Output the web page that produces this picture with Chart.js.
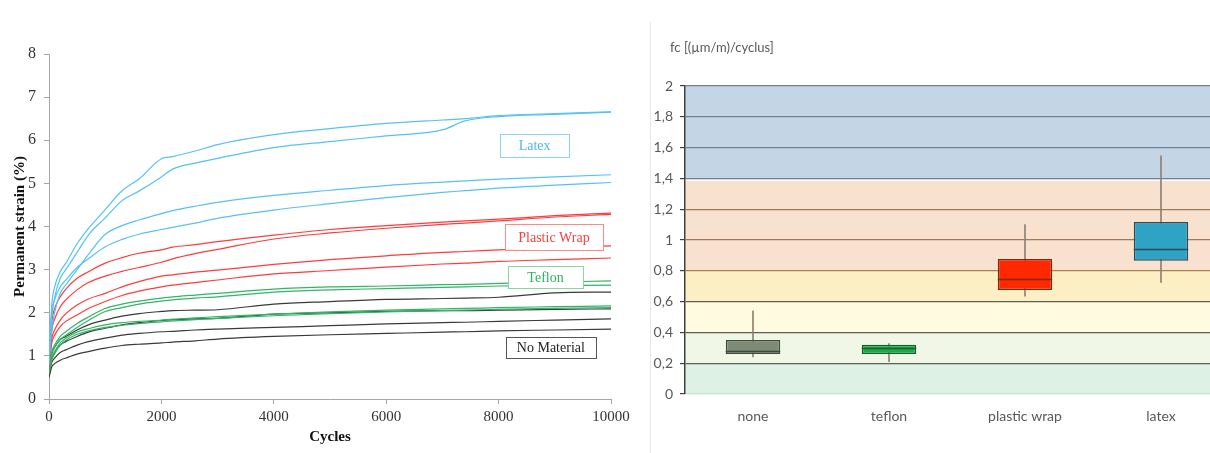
<!DOCTYPE html>
<html>
<head>
<meta charset="utf-8">
<script src="https://cdn.jsdelivr.net/npm/chart.js@4.4.1/dist/chart.umd.min.js"></script>
<style>
  html, body { margin: 0; padding: 0; background: #fff; overflow: hidden; }
  #wrap { position: relative; width: 1210px; height: 453px; overflow: hidden; }
  #left { position: absolute; left: 0; top: 0; width: 640px; height: 453px; }
  #right { position: absolute; left: 650px; top: 0; width: 590px; height: 453px; }
  #sep { position: absolute; left: 650px; top: 22px; width: 1px; height: 431px; background: #e8e8e8; }
</style>
</head>
<body>
<div id="wrap">
  <div id="left"><canvas id="strain"></canvas></div>
  <div id="sep"></div>
  <div id="right"><canvas id="fc"></canvas></div>
</div>
<script>
// ---- left: permanent strain vs cycles ----
var cycles = [0, 50, 100, 200, 300, 500, 700, 1000, 1300, 1600, 2000, 2200, 2600, 3000, 4000, 5000, 6000, 7000, 7400, 8000, 9000, 10000];

var latexA = [1.0, 2.2, 2.6, 2.95, 3.15, 3.6, 3.95, 4.39, 4.83, 5.1, 5.57, 5.62, 5.75, 5.9, 6.13, 6.27, 6.39, 6.47, 6.5, 6.57, 6.62, 6.66];
var latexB = [0.9, 1.9, 2.35, 2.8, 3.0, 3.4, 3.8, 4.2, 4.6, 4.82, 5.15, 5.33, 5.47, 5.58, 5.83, 5.97, 6.1, 6.24, 6.45, 6.55, 6.6, 6.65];
var latexC = [0.8, 1.6, 2.0, 2.45, 2.65, 3.0, 3.35, 3.82, 4.02, 4.15, 4.3, 4.37, 4.47, 4.56, 4.72, 4.84, 4.95, 5.03, 5.06, 5.1, 5.15, 5.2];
var latexD = [0.9, 2.0, 2.3, 2.6, 2.76, 3.05, 3.25, 3.53, 3.7, 3.82, 3.93, 3.98, 4.08, 4.19, 4.38, 4.53, 4.67, 4.79, 4.83, 4.89, 4.96, 5.02];

var wrapA = [0.9, 1.8, 2.1, 2.37, 2.55, 2.8, 2.95, 3.15, 3.28, 3.38, 3.46, 3.52, 3.58, 3.65, 3.8, 3.93, 4.02, 4.1, 4.13, 4.17, 4.25, 4.31];
var wrapB = [0.85, 1.6, 1.85, 2.14, 2.3, 2.53, 2.7, 2.85, 2.96, 3.05, 3.17, 3.25, 3.37, 3.47, 3.71, 3.85, 3.96, 4.05, 4.08, 4.13, 4.22, 4.28];
var wrapC = [0.8, 1.4, 1.6, 1.83, 1.98, 2.18, 2.32, 2.45, 2.6, 2.72, 2.85, 2.88, 2.94, 2.99, 3.12, 3.23, 3.32, 3.4, 3.42, 3.46, 3.51, 3.55];
var wrapD = [0.75, 1.3, 1.48, 1.68, 1.8, 1.95, 2.1, 2.26, 2.4, 2.5, 2.6, 2.64, 2.7, 2.76, 2.9, 2.98, 3.06, 3.13, 3.15, 3.19, 3.23, 3.27];

var teflonA = [0.7, 1.1, 1.25, 1.45, 1.56, 1.75, 1.9, 2.1, 2.2, 2.27, 2.34, 2.37, 2.41, 2.45, 2.55, 2.6, 2.62, 2.65, 2.66, 2.68, 2.71, 2.74];
var teflonB = [0.65, 1.05, 1.2, 1.38, 1.48, 1.66, 1.82, 2.03, 2.12, 2.2, 2.27, 2.3, 2.34, 2.37, 2.48, 2.53, 2.56, 2.59, 2.6, 2.62, 2.63, 2.64];
var teflonC = [0.65, 0.95, 1.1, 1.3, 1.41, 1.55, 1.63, 1.72, 1.77, 1.8, 1.83, 1.85, 1.88, 1.91, 1.97, 2.02, 2.06, 2.09, 2.1, 2.12, 2.14, 2.16];
var teflonD = [0.6, 0.9, 1.05, 1.25, 1.36, 1.5, 1.58, 1.66, 1.71, 1.75, 1.79, 1.81, 1.84, 1.87, 1.93, 1.98, 2.02, 2.05, 2.06, 2.08, 2.1, 2.12];

var noneA = [0.7, 1.05, 1.2, 1.38, 1.45, 1.6, 1.72, 1.83, 1.92, 1.98, 2.03, 2.05, 2.06, 2.07, 2.2, 2.26, 2.31, 2.33, 2.34, 2.36, 2.46, 2.48];
var noneB = [0.65, 0.95, 1.08, 1.25, 1.33, 1.45, 1.55, 1.64, 1.72, 1.77, 1.82, 1.84, 1.86, 1.87, 1.97, 2.0, 2.03, 2.05, 2.05, 2.06, 2.08, 2.09];
var noneC = [0.6, 0.85, 0.95, 1.08, 1.14, 1.25, 1.33, 1.41, 1.48, 1.52, 1.56, 1.57, 1.6, 1.62, 1.66, 1.7, 1.74, 1.77, 1.78, 1.8, 1.83, 1.86];
var noneD = [0.5, 0.75, 0.82, 0.9, 0.95, 1.04, 1.1, 1.18, 1.24, 1.27, 1.3, 1.32, 1.35, 1.39, 1.45, 1.49, 1.52, 1.55, 1.56, 1.58, 1.6, 1.62];

var noteLabels = ["Latex", "Plastic Wrap", "Teflon", "No Material"];

// ---- right: fc box plot ----
var materials = ["none", "teflon", "plastic wrap", "latex"];
var fcMin = [0.24, 0.21, 0.635, 0.725];
var fcQ1 = [0.26, 0.26, 0.675, 0.865];
var fcMedian = [0.277, 0.30, 0.747, 0.94];
var fcQ3 = [0.35, 0.32, 0.877, 1.117];
var fcMax = [0.54, 0.327, 1.10, 1.547];
var fcTickLabels = ["0", "0,2", "0,4", "0,6", "0,8", "1", "1,2", "1,4", "1,6", "1,8", "2"];
var fcUnit = "fc [(µm/m)/cyclus]";
var bandEdges = [0, 0.2, 0.4, 0.6, 0.8, 1.4, 2];

// styles
var lineColors = { latex: "#55c2f2", wrap: "#ff3b3b", teflon: "#33b566", none: "#3a3a3a" };
var noteStyle = [
  { text: "#4db8ea", border: "#8fd3f3", x: 8640, y: 5.88, w: 69, h: 23 },
  { text: "#ff3b3b", border: "#ff8a8a", x: 8985, y: 3.76, w: 98, h: 26 },
  { text: "#2eb25e", border: "#86d7a4", x: 8835, y: 2.83, w: 75, h: 22 },
  { text: "#222222", border: "#555555", x: 8930, y: 1.19, w: 90, h: 21 }
];
var bandColors = ["#ddf1e5", "#f0f7e6", "#fefbe0", "#fcefc3", "#f9e1cf", "#c4d5e6"];
var boxFill = ["#7f8b75", "#18ad48", "#ff2800", "#2ea3c4"];
var boxEdge = ["#3e4a3c", "#1d5e2e", "#7a2a10", "#2d4a58"];

function toPoints(arr) {
  return cycles.map(function (c, i) { return { x: c, y: arr[i] }; });
}

function lineSet(arr, color) {
  return {
    data: toPoints(arr),
    borderColor: color,
    borderWidth: 1.2,
    pointRadius: 0,
    fill: false,
    cubicInterpolationMode: "monotone"
  };
}

var strainSets = [
  lineSet(latexA, lineColors.latex), lineSet(latexB, lineColors.latex),
  lineSet(latexC, lineColors.latex), lineSet(latexD, lineColors.latex),
  lineSet(wrapA, lineColors.wrap), lineSet(wrapB, lineColors.wrap),
  lineSet(wrapC, lineColors.wrap), lineSet(wrapD, lineColors.wrap),
  lineSet(teflonA, lineColors.teflon), lineSet(teflonB, lineColors.teflon),
  lineSet(teflonC, lineColors.teflon), lineSet(teflonD, lineColors.teflon),
  lineSet(noneA, lineColors.none), lineSet(noneB, lineColors.none),
  lineSet(noneC, lineColors.none), lineSet(noneD, lineColors.none)
];

// labelled boxes inside the strain plot
var notesPlugin = {
  id: "notes",
  afterDatasetsDraw: function (chart) {
    var ctx = chart.ctx;
    var xs = chart.scales.x, ys = chart.scales.y;
    ctx.save();
    ctx.font = "14px 'Liberation Serif'";
    ctx.textAlign = "center";
    ctx.textBaseline = "middle";
    noteLabels.forEach(function (label, i) {
      var s = noteStyle[i];
      var cx = xs.getPixelForValue(s.x), cy = ys.getPixelForValue(s.y);
      ctx.fillStyle = "#fff";
      ctx.fillRect(cx - s.w / 2, cy - s.h / 2, s.w, s.h);
      ctx.strokeStyle = s.border;
      ctx.lineWidth = 1;
      ctx.strokeRect(Math.round(cx - s.w / 2) + 0.5, Math.round(cy - s.h / 2) + 0.5, s.w, s.h);
      ctx.fillStyle = s.text;
      ctx.fillText(label, cx, cy + 1);
    });
    ctx.restore();
  }
};

var serif = "'Liberation Serif', 'Times New Roman', serif";

new Chart(document.getElementById("strain").getContext("2d"), {
  type: "line",
  data: { datasets: strainSets },
  options: {
    animation: false,
    responsive: true,
    maintainAspectRatio: false,
    layout: { padding: { left: 11, right: 29, top: 54, bottom: 7 } },
    plugins: { legend: { display: false }, tooltip: { enabled: false } },
    scales: {
      x: {
        type: "linear",
        min: 0,
        max: 10000,
        ticks: {
          stepSize: 2000,
          maxRotation: 0,
          color: "#333",
          padding: 4,
          font: { family: serif, size: 15 },
          callback: function (v) { return String(v); }
        },
        grid: { drawOnChartArea: false, tickLength: 5, tickColor: "#a6a6a6" },
        border: { color: "#a6a6a6" },
        title: {
          display: true,
          text: "Cycles",
          color: "#111",
          padding: { top: 0, bottom: 0 },
          font: { family: serif, size: 15, weight: "bold" }
        },
        afterFit: function (s) { s.height = 47; }
      },
      y: {
        min: 0,
        max: 8,
        ticks: {
          stepSize: 1,
          color: "#333",
          padding: 8,
          font: { family: serif, size: 16 }
        },
        grid: { drawOnChartArea: false, tickLength: 5, tickColor: "#a6a6a6" },
        border: { color: "#a6a6a6" },
        title: {
          display: true,
          text: "Permanent strain (%)",
          color: "#111",
          padding: { top: 0, bottom: 0 },
          font: { family: serif, size: 15, weight: "bold" }
        },
        afterFit: function (s) { s.width = 38; }
      }
    }
  },
  plugins: [notesPlugin]
});

var sans = "Lato, 'Open Sans', sans-serif";

// coloured classes behind the box plot, plus the unit caption
var bandsPlugin = {
  id: "bands",
  beforeDraw: function (chart) {
    var ctx = chart.ctx, a = chart.chartArea, ys = chart.scales.y;
    ctx.save();
    for (var i = 0; i < bandColors.length; i++) {
      var yTop = ys.getPixelForValue(bandEdges[i + 1]);
      var yBot = ys.getPixelForValue(bandEdges[i]);
      ctx.fillStyle = bandColors[i];
      ctx.fillRect(a.left, yTop, a.right - a.left, yBot - yTop);
    }
    // thin white gap between the blue and the peach class
    ctx.fillStyle = "#ffffff";
    ctx.fillRect(a.left, ys.getPixelForValue(bandEdges[5]) + 1, a.right - a.left, 1.5);
    ctx.fillStyle = "#595959";
    ctx.font = "13px " + sans;
    ctx.textAlign = "left";
    ctx.textBaseline = "middle";
    ctx.fillText(fcUnit, a.left - 15, a.top - 38);
    ctx.restore();
  }
};

var medianPlugin = {
  id: "medians",
  afterDatasetsDraw: function (chart) {
    var ctx = chart.ctx, ys = chart.scales.y;
    var meta = chart.getDatasetMeta(0);
    ctx.save();
    meta.data.forEach(function (bar, i) {
      var y = Math.round(ys.getPixelForValue(fcMedian[i])) + 0.5;
      ctx.strokeStyle = boxEdge[i];
      ctx.lineWidth = 1.5;
      ctx.beginPath();
      ctx.moveTo(bar.x - bar.width / 2, y);
      ctx.lineTo(bar.x + bar.width / 2, y);
      ctx.stroke();
    });
    ctx.restore();
  }
};

function gridColor(ctx) {
  var v = Math.round(ctx.tick.value * 10) / 10;
  if (v === 0) return "#bfe3cc";
  if (v >= 1.4) return "#6f8195";
  if (v >= 1.0) return "#9c7a5c";
  if (v === 0.8) return "#a8834e";
  return "#5c5f55";
}

new Chart(document.getElementById("fc").getContext("2d"), {
  type: "bar",
  data: {
    labels: materials,
    datasets: [
      {
        data: materials.map(function (m, i) { return [fcQ1[i], fcQ3[i]]; }),
        backgroundColor: boxFill,
        borderColor: boxEdge,
        borderWidth: 1.5,
        borderSkipped: false,
        grouped: false,
        barPercentage: 0.4,
        categoryPercentage: 1,
        order: 0
      },
      {
        data: materials.map(function (m, i) { return [fcMin[i], fcMax[i]]; }),
        backgroundColor: "#8f8072",
        borderWidth: 0,
        grouped: false,
        barThickness: 1,
        order: 1
      }
    ]
  },
  options: {
    animation: false,
    responsive: true,
    maintainAspectRatio: false,
    layout: { padding: { left: 0, right: 11, top: 86, bottom: 19 } },
    plugins: {
      legend: { display: false },
      tooltip: { enabled: false }
    },
    scales: {
      x: {
        grid: { display: false, drawTicks: false },
        border: { display: false },
        ticks: { color: "#595959", padding: 14, font: { family: sans, size: 14 } },
        afterFit: function (s) { s.height = 40; }
      },
      y: {
        min: 0,
        max: 2,
        ticks: {
          stepSize: 0.2,
          color: "#595959",
          padding: 7,
          font: { family: sans, size: 14 },
          callback: function (v, i) { return fcTickLabels[i]; }
        },
        grid: { color: gridColor, lineWidth: 1.2, tickLength: 5, tickColor: "#404040" },
        border: { color: "#404040", width: 1.5 },
        afterFit: function (s) { s.width = 35; }
      }
    }
  },
  plugins: [bandsPlugin, medianPlugin]
});
</script>
</body>
</html>
